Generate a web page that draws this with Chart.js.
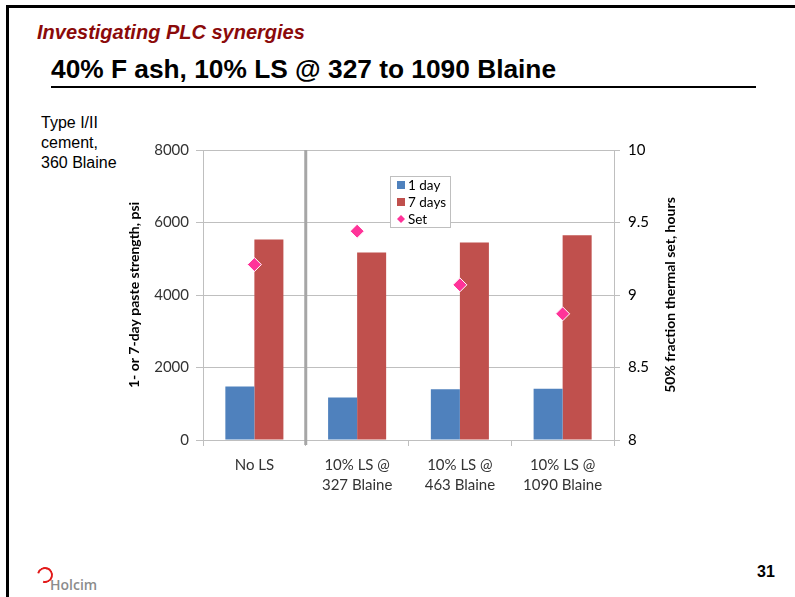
<!DOCTYPE html>
<html>
<head>
<meta charset="utf-8">
<script src="https://cdn.jsdelivr.net/npm/chart.js@4"></script>
<style>
  body { margin: 0; background: #fff; }
  #slide { position: relative; width: 795px; height: 597px; overflow: hidden; font-family: "Liberation Sans", Arial, sans-serif; }
  #frameTop { position: absolute; left: 6px; top: 5px; width: 795px; height: 3px; background: #000; }
  #frameLeft { position: absolute; left: 6px; top: 5px; width: 3px; height: 600px; background: #000; }
  #kicker { position: absolute; left: 37px; top: 21px; font-size: 20px; font-weight: bold; font-style: italic; color: #8b0a0a; }
  #title { position: absolute; left: 51px; top: 54px; font-size: 26.3px; font-weight: bold; color: #000; }
  #rule { position: absolute; left: 51px; top: 86px; width: 705px; height: 2px; background: #000; }
  #note { position: absolute; left: 41px; top: 113px; font-size: 16px; line-height: 20px; color: #000; }
  #page { position: absolute; left: 757px; top: 563px; font-size: 16px; font-weight: bold; }
  #logo { position: absolute; left: 50px; top: 575px; font-family: "Open Sans", sans-serif; font-size: 14px; font-weight: 600; color: #8c8c8c; }
  #logoArc { position: absolute; left: 37px; top: 567px; width: 12px; height: 12px; border: 2px solid #e21a1a; border-left-color: transparent; border-radius: 50%; transform: rotate(-30deg); }
  #chartBox { position: absolute; left: 110px; top: 133px; }
</style>
</head>
<body>
<div id="slide">
  <div id="frameTop"></div>
  <div id="frameLeft"></div>
  <div id="kicker">Investigating PLC synergies</div>
  <div id="title">40% F ash, 10% LS @ 327 to 1090 Blaine</div>
  <div id="rule"></div>
  <div id="note">Type I/II<br>cement,<br>360 Blaine</div>
  <div id="page">31</div>
  <div id="logoArc"></div>
  <div id="logo">Holcim</div>
  <div id="chartBox"><canvas id="chart" width="590" height="367"></canvas></div>
</div>
<script>
const categories = [['No LS'], ['10% LS @', '327 Blaine'], ['10% LS @', '463 Blaine'], ['10% LS @', '1090 Blaine']];
const oneDay = [1475, 1170, 1400, 1415];
const sevenDays = [5530, 5170, 5450, 5645];
const setHours = [9.21, 9.44, 9.07, 8.87];
const seriesNames = ['1 day', '7 days', 'Set'];
const leftTitle = '1- or 7-day paste strength, psi';
const rightTitle = '50% fraction thermal set, hours';

const chartFont = 'Lato, "Open Sans", sans-serif';

// grey divider between the control and the LS mixes
const dividerPlugin = {
    id: 'divider',
    beforeDatasetsDraw(chart) {
        const x = chart.scales.x;
        const px = (x.getPixelForValue(0) + x.getPixelForValue(1)) / 2;
        const ctx = chart.ctx;
        ctx.save();
        ctx.strokeStyle = '#a6a6a6';
        ctx.lineWidth = 3;
        ctx.beginPath();
        ctx.moveTo(px, chart.chartArea.top);
        ctx.lineTo(px, chart.chartArea.bottom + 5);
        ctx.stroke();
        ctx.restore();
    }
};

// right axis title reads bottom-to-top like the left one
const rightTitlePlugin = {
    id: 'rightTitle',
    afterDraw(chart) {
        const s = chart.scales.y1;
        const ctx = chart.ctx;
        ctx.save();
        ctx.translate(s.right - 30, (s.top + s.bottom) / 2);
        ctx.rotate(-Math.PI / 2);
        ctx.font = 'bold 14px ' + chartFont;
        ctx.fillStyle = '#000';
        ctx.textAlign = 'center';
        ctx.textBaseline = 'middle';
        ctx.fillText(rightTitle, 0, 0);
        ctx.restore();
    }
};

// legend box inside the plot, like the Excel one
const boxLegend = {
    id: 'boxLegend',
    afterDraw(chart) {
        const ctx = chart.ctx;
        const left = 280, top = 43;
        ctx.save();
        ctx.fillStyle = '#fff';
        ctx.fillRect(left, top, 60, 51);
        ctx.strokeStyle = '#bfbfbf';
        ctx.lineWidth = 1;
        ctx.strokeRect(left + 0.5, top + 0.5, 60, 51);
        ctx.font = '13.5px ' + chartFont;
        ctx.textBaseline = 'middle';
        chart.data.datasets.forEach((ds, i) => {
            const y = top + 9 + i * 17;
            ctx.fillStyle = ds.backgroundColor;
            if (ds.type === 'line') {
                ctx.beginPath();
                ctx.moveTo(left + 11, y - 4);
                ctx.lineTo(left + 15, y);
                ctx.lineTo(left + 11, y + 4);
                ctx.lineTo(left + 7, y);
                ctx.closePath();
                ctx.fill();
            } else {
                ctx.fillRect(left + 7, y - 4, 8, 8);
            }
            ctx.fillStyle = '#000';
            ctx.fillText(ds.label, left + 18, y + 1);
        });
        ctx.restore();
    }
};

const ctx = document.getElementById('chart').getContext('2d');
const chart = new Chart(ctx, {
    data: {
        labels: categories,
        datasets: [
            {
                type: 'bar',
                label: seriesNames[0],
                data: oneDay,
                yAxisID: 'y',
                backgroundColor: '#4f81bd',
                categoryPercentage: 0.565,
                barPercentage: 1.0,
                order: 1
            },
            {
                type: 'bar',
                label: seriesNames[1],
                data: sevenDays,
                yAxisID: 'y',
                backgroundColor: '#c0504d',
                categoryPercentage: 0.565,
                barPercentage: 1.0,
                order: 1
            },
            {
                type: 'line',
                label: seriesNames[2],
                data: setHours,
                yAxisID: 'y1',
                showLine: false,
                pointStyle: 'rectRot',
                pointRadius: 7,
                backgroundColor: '#ff3399',
                borderColor: '#ffffff',
                borderWidth: 1,
                order: 0
            }
        ]
    },
    options: {
        responsive: false,
        devicePixelRatio: 1,
        animation: false,
        layout: { padding: { top: 5, left: 0, right: 0, bottom: 0 } },
        plugins: {
            legend: { display: false },
            tooltip: { enabled: false }
        },
        scales: {
            x: {
                grid: { offset: true, drawOnChartArea: false, tickLength: 6, color: '#bfbfbf' },
                border: { color: '#bfbfbf' },
                ticks: { color: '#333', font: { family: chartFont, size: 15, lineHeight: 1.35 }, padding: 9, maxRotation: 0 },
                afterFit(scale) { scale.height = 60; }
            },
            y: {
                position: 'left',
                min: 0,
                max: 8000,
                ticks: {
                    stepSize: 2000, color: '#333', font: { family: chartFont, size: 15 }, padding: 7,
                    callback: v => String(v)
                },
                grid: { color: '#bfbfbf', tickLength: 7 },
                border: { color: '#bfbfbf' },
                title: {
                    display: true,
                    text: leftTitle,
                    color: '#000',
                    font: { family: chartFont, size: 14, weight: 'bold' },
                    padding: { top: 16, bottom: 0 }
                },
                afterFit(scale) { scale.width = 93; }
            },
            y1: {
                position: 'right',
                min: 8,
                max: 10,
                ticks: {
                    stepSize: 0.5, color: '#000', font: { family: chartFont, size: 15 }, padding: 8,
                    callback: v => String(v)
                },
                grid: { drawOnChartArea: false, color: '#bfbfbf', tickLength: 6 },
                border: { color: '#bfbfbf' },
                afterFit(scale) { scale.width = 86; }
            }
        }
    },
    plugins: [dividerPlugin, rightTitlePlugin, boxLegend]
});
</script>
</body>
</html>
